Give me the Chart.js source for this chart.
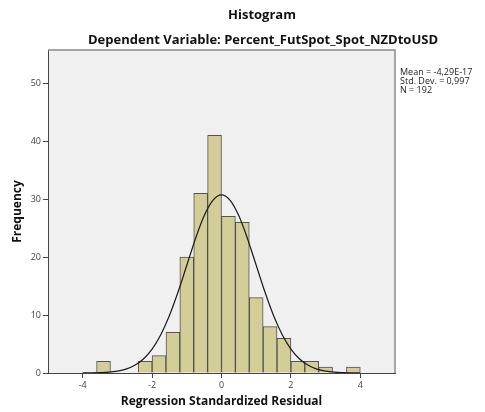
<!DOCTYPE html>
<html><head><meta charset="utf-8">
<style>html,body{margin:0;padding:0;background:#fff;}</style>
<script src="https://cdn.jsdelivr.net/npm/chart.js@4"></script>
</head><body>
<canvas id="c" width="485" height="412"></canvas>
<script>
// ---- data ----
const binCenters = [-3.4,-3.0,-2.6,-2.2,-1.8,-1.4,-1.0,-0.6,-0.2,0.2,0.6,1.0,1.4,1.8,2.2,2.6,3.0,3.4,3.8];
const counts     = [2,0,0,2,3,7,20,31,41,27,26,13,8,6,2,2,1,0,1];
const curveX = [-4,-3.75,-3.5,-3.25,-3,-2.75,-2.5,-2.25,-2,-1.75,-1.5,-1.25,-1,-0.75,-0.5,-0.25,0,0.25,0.5,0.75,1,1.25,1.5,1.75,2,2.25,2.5,2.75,3,3.25,3.5,3.75,4];
const curveY = [0.01,0.03,0.07,0.15,0.33,0.68,1.32,2.41,4.11,6.59,9.91,14.0,18.58,23.16,27.1,29.78,30.73,29.78,27.1,23.16,18.58,14.0,9.91,6.59,4.11,2.41,1.32,0.68,0.33,0.15,0.07,0.03,0.01];
const xTicks = [-4,-2,0,2,4];
const yTicks = [0,10,20,30,40,50];
const titleText = 'Histogram';
const subtitleText = 'Dependent Variable: Percent_FutSpot_Spot_NZDtoUSD';
const statsLines = ['Mean = -4,29E-17','Std. Dev. = 0,997','N = 192'];
const xTitle = 'Regression Standardized Residual';
const yTitle = 'Frequency';

const FONT = '"Open Sans", "DejaVu Sans", sans-serif';

const decor = {
  id: 'decor',
  beforeDraw(chart) {
    const {ctx, chartArea: a} = chart;
    ctx.save();
    ctx.fillStyle = '#ffffff';
    ctx.fillRect(0, 0, chart.width, chart.height);
    ctx.fillStyle = '#f0f0f0';
    ctx.fillRect(a.left, a.top, a.right - a.left, a.bottom - a.top);
    ctx.restore();
  },
  afterDraw(chart) {
    const {ctx, chartArea: a} = chart;
    ctx.save();
    ctx.strokeStyle = '#8a8a8a';
    ctx.lineWidth = 1.5;
    ctx.beginPath();
    ctx.moveTo(a.left, a.top);
    ctx.lineTo(a.right, a.top);
    ctx.lineTo(a.right, a.bottom);
    ctx.stroke();
    ctx.fillStyle = '#111';
    ctx.textAlign = 'center';
    ctx.textBaseline = 'middle';
    ctx.font = 'bold 13px ' + FONT;
    ctx.fillText(titleText, 262, 15);
    ctx.fillText(subtitleText, 263, 40);
    ctx.textAlign = 'left';
    ctx.font = '9px ' + FONT;
    ctx.fillStyle = '#222';
    statsLines.forEach((t, i) => ctx.fillText(t, 400, 72 + i * 9));
    ctx.restore();
  }
};

const axisCommon = {
  grid: {display: true, drawOnChartArea: false, drawTicks: true, tickLength: 5, color: '#444', offset: false},
  border: {display: true, color: '#444', width: 1},
  ticks: {font: {size: 9, family: FONT}, color: '#444', padding: 2, autoSkip: false, maxRotation: 0}
};

new Chart(document.getElementById('c'), {
  type: 'bar',
  data: {
    datasets: [
      {
        type: 'line',
        data: curveX.map((x, i) => ({x: x, y: curveY[i]})),
        borderColor: '#1a1a1a',
        borderWidth: 1.2,
        pointRadius: 0,
        fill: false,
        cubicInterpolationMode: 'monotone',
        order: 0
      },
      {
        type: 'bar',
        data: binCenters.map((x, i) => ({x: x, y: counts[i] === 0 ? null : counts[i]})),
        backgroundColor: '#d3ce97',
        borderColor: 'rgba(55,55,55,0.85)',
        borderWidth: 1,
        barPercentage: 1,
        categoryPercentage: 1,
        order: 1
      }
    ]
  },
  options: {
    responsive: false,
    animation: false,
    devicePixelRatio: 1,
    layout: {padding: {top: 50, right: 90, bottom: 0, left: 0}},
    plugins: {legend: {display: false}, tooltip: {enabled: false}},
    scales: {
      x: Object.assign({}, axisCommon, {
        type: 'linear', min: -5, max: 5, offset: false,
        afterBuildTicks: s => { s.ticks = xTicks.map(v => ({value: v})); },
        afterFit: s => { s.height = 39; },
        title: {display: true, text: xTitle, color: '#111', font: {size: 12, weight: 'bold', family: FONT}, padding: {top: 2, bottom: 3}}
      }),
      y: Object.assign({}, axisCommon, {
        type: 'linear', min: 0, max: 55.7,
        afterBuildTicks: s => { s.ticks = yTicks.map(v => ({value: v})); },
        afterFit: s => { s.width = 48; },
        title: {display: true, text: yTitle, color: '#111', font: {size: 12, weight: 'bold', family: FONT}, padding: {top: 10, bottom: 2}}
      })
    }
  },
  plugins: [decor]
});
</script>
</body></html>
